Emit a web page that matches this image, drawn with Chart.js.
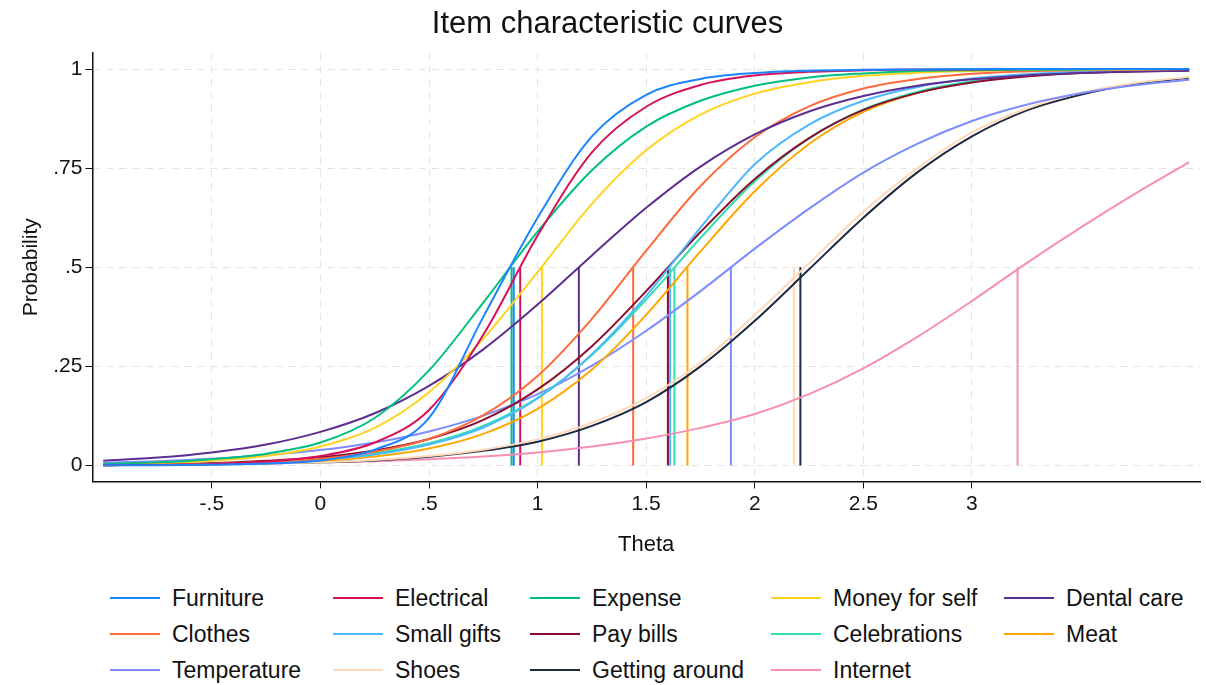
<!DOCTYPE html>
<html>
<head>
<meta charset="utf-8">
<script src="https://cdn.jsdelivr.net/npm/chart.js@4.4.0/dist/chart.umd.min.js"></script>
<style>
  html, body { margin: 0; padding: 0; background: #fff; }
  #wrap { position: relative; width: 1206px; height: 685px; font-family: 'Liberation Sans', Arial, sans-serif; }
  #plot { position: absolute; left: 0; top: 0; width: 1206px; height: 562px; }
  #legend { position: absolute; left: 0; top: 580px; width: 1206px; height: 105px; }
  .item { position: absolute; height: 36px; display: flex; align-items: center; font-size: 23px; color: #111; white-space: nowrap; }
  .swatch { width: 50px; height: 2px; margin-right: 12px; }
</style>
</head>
<body>
<div id="wrap">
  <div id="plot"><canvas id="icc"></canvas></div>
  <div id="legend"></div>
</div>
<script>
// theta grid the curves were read at
const theta = [-1, -0.75, -0.5, -0.25, 0, 0.25, 0.5, 0.75, 1, 1.25, 1.5, 1.75, 2, 2.25, 2.5, 2.75, 3, 3.25, 3.5, 3.75, 4];

const items = ['Furniture', 'Electrical', 'Expense', 'Money for self', 'Dental care',
    'Clothes', 'Small gifts', 'Pay bills', 'Celebrations', 'Meat',
    'Temperature', 'Shoes', 'Getting around', 'Internet'];

const colors = ['#1a85ff', '#d41159', '#00bf7f', '#ffd320', '#5e2d91',
    '#ff6a3d', '#4db8ff', '#8b0e2f', '#31e0b0', '#ffa600',
    '#7f8cff', '#ffd9b8', '#1c2a44', '#f78fb3'];

// difficulty (theta where p = .5), drawn as drop lines
const difficulty = [0.89, 0.92, 0.88, 1.02, 1.19, 1.44, 1.61, 1.60, 1.63, 1.69, 1.89, 2.18, 2.21, 3.21];

const furniture    = [.001, .001, .002, .005, .013, .040, .120, .375, .625, .830, .935, .975, .990, .996, .998, .999, 1, 1, 1, 1, 1];
const electrical   = [.001, .002, .004, .010, .024, .058, .140, .330, .580, .790, .905, .960, .984, .993, .997, .999, .999, 1, 1, 1, 1];
const expense      = [.004, .008, .016, .030, .058, .120, .240, .411, .590, .745, .855, .920, .958, .979, .989, .995, .997, .998, .999, 1, 1];
const moneyForSelf = [.003, .006, .012, .024, .048, .095, .185, .320, .488, .660, .795, .885, .938, .967, .983, .991, .995, .998, .999, .999, 1];
const dentalCare   = [.012, .020, .033, .053, .085, .132, .201, .293, .406, .530, .650, .754, .835, .893, .932, .958, .974, .984, .990, .994, .996];
const clothes      = [.001, .002, .004, .009, .017, .035, .067, .127, .226, .370, .542, .705, .828, .906, .951, .975, .988, .994, .997, .998, .999];
const smallGifts   = [.001, .002, .004, .008, .015, .028, .053, .096, .169, .281, .428, .600, .760, .860, .920, .955, .976, .987, .993, .996, .998];
const payBills     = [.002, .004, .006, .012, .021, .038, .067, .115, .192, .301, .440, .589, .723, .826, .897, .940, .966, .981, .990, .994, .997];
const celebrations = [.001, .003, .005, .009, .017, .031, .056, .100, .171, .279, .419, .574, .717, .825, .898, .943, .969, .983, .991, .995, .997];
const meat         = [.001, .002, .003, .006, .012, .023, .043, .080, .143, .242, .380, .540, .692, .811, .892, .940, .968, .983, .991, .995, .997];
const temperature  = [.007, .011, .017, .026, .039, .058, .086, .126, .180, .252, .340, .440, .547, .648, .739, .812, .869, .910, .939, .959, .973];
const shoes        = [.001, .002, .003, .005, .008, .014, .024, .040, .066, .108, .170, .260, .380, .510, .640, .750, .840, .900, .940, .965, .980];
const gettingAround= [.001, .002, .003, .005, .008, .013, .022, .037, .060, .100, .160, .250, .365, .495, .625, .740, .830, .895, .935, .962, .978];
const internet     = [.002, .003, .004, .006, .008, .011, .016, .023, .033, .048, .068, .095, .130, .180, .245, .325, .415, .510, .600, .685, .765];

const series = [furniture, electrical, expense, moneyForSelf, dentalCare,
    clothes, smallGifts, payBills, celebrations, meat,
    temperature, shoes, gettingAround, internet];

const datasets = [];
items.forEach((name, i) => {
    datasets.push({
        label: name,
        data: theta.map((t, j) => ({ x: t, y: series[i][j] })),
        borderColor: colors[i],
        borderWidth: 2,
        pointRadius: 0,
        cubicInterpolationMode: 'monotone'
    });
});
// drop lines at p = .5
items.forEach((name, i) => {
    datasets.push({
        label: '_drop',
        data: [{ x: difficulty[i], y: 0 }, { x: difficulty[i], y: 0.5 }],
        borderColor: colors[i],
        borderWidth: 2,
        pointRadius: 0
    });
});

// html legend, 5 columns x 3 rows like the original
const colX = [110, 333, 530, 771, 1004];
const legend = document.getElementById('legend');
items.forEach((name, i) => {
    const el = document.createElement('div');
    el.className = 'item';
    el.style.left = colX[i % 5] + 'px';
    el.style.top = (Math.floor(i / 5) * 36) + 'px';
    el.innerHTML = '<span class="swatch" style="background:' + colors[i] + '"></span>' + name;
    legend.appendChild(el);
});

const xTicks = [-0.5, 0, 0.5, 1, 1.5, 2, 2.5, 3];
const yTicks = [0, 0.25, 0.5, 0.75, 1];
const fmt = v => v === 0 ? '0' : v === 1 ? '1' : String(v).replace('0.', '.');

const font = 'Liberation Sans, Arial, sans-serif';
const ctx = document.getElementById('icc').getContext('2d');
new Chart(ctx, {
    type: 'line',
    data: { datasets: datasets },
    options: {
        animation: false,
        responsive: true,
        maintainAspectRatio: false,
        layout: { padding: { left: 15, right: 6, top: 2, bottom: 0 } },
        plugins: {
            title: {
                display: true,
                text: 'Item characteristic curves',
                color: '#111',
                font: { family: font, size: 31, weight: 'normal' },
                padding: { top: 4, bottom: 10 }
            },
            tooltip: { enabled: false },
            legend: { display: false }
        },
        scales: {
            x: {
                type: 'linear',
                min: -1.05,
                max: 4.05,
                afterBuildTicks: axis => { axis.ticks = xTicks.map(v => ({ value: v })); },
                ticks: { color: '#111', font: { family: font, size: 21 }, callback: v => fmt(v) },
                grid: { color: '#e4e4e4', tickColor: '#111', tickLength: 7 },
                border: { color: '#111', width: 1.5, dash: [7, 6] },
                title: { display: true, text: 'Theta', color: '#111', font: { family: font, size: 22 }, padding: { top: 12 } }
            },
            y: {
                min: -0.04,
                max: 1.04,
                afterBuildTicks: axis => { axis.ticks = yTicks.map(v => ({ value: v })); },
                ticks: { color: '#111', font: { family: font, size: 21 }, callback: v => fmt(v) },
                grid: { color: '#e4e4e4', tickColor: '#111', tickLength: 7 },
                border: { color: '#111', width: 1.5, dash: [7, 6] },
                title: { display: true, text: 'Probability', color: '#111', font: { family: font, size: 21 }, padding: { bottom: 6 } }
            }
        }
    }
});
</script>
</body>
</html>
